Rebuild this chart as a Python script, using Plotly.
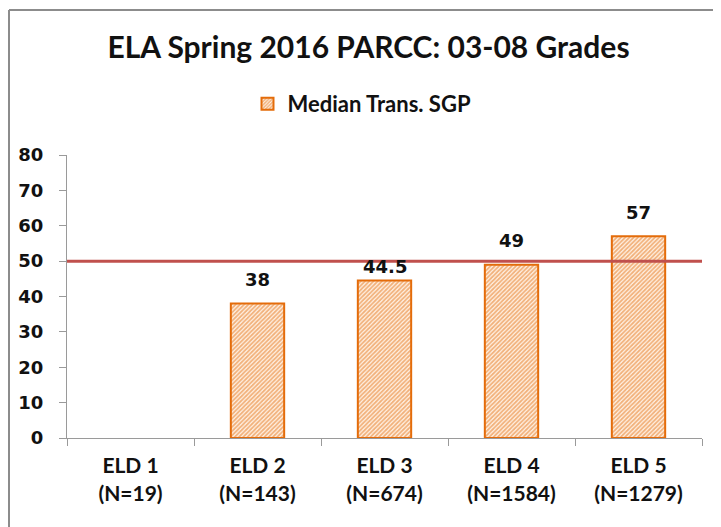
import plotly.graph_objects as go

categories = ["ELD 1<br>(N=19)", "ELD 2<br>(N=143)", "ELD 3<br>(N=674)", "ELD 4<br>(N=1584)", "ELD 5<br>(N=1279)"]
values = [None, 38, 44.5, 49, 57]
labels = ["", "38", "44.5", "49", "57"]
reference = 50
y_ticks = [0, 10, 20, 30, 40, 50, 60, 70, 80]

# label offsets above bar tops (px) -- styling only
label_shift = [24, 24, 14, 24, 24]

orange = "#E46C0A"
fig = go.Figure()
fig.add_trace(go.Bar(
    x=categories, y=values, name="Median Trans. SGP",
    width=0.42,
    marker=dict(color="white", line=dict(color=orange, width=2),
                pattern=dict(shape="/", fgcolor=orange, bgcolor="#fff4ea", size=3, solidity=0.6)),
))

for cat, val, lab, sh in zip(categories, values, labels, label_shift):
    if val is None:
        continue
    fig.add_annotation(x=cat, y=val, text=lab, showarrow=False, yanchor="middle", yshift=sh,
                       font=dict(family="DejaVu Sans", size=18, color="#111", weight="bold"))

fig.add_shape(type="line", xref="paper", yref="y", x0=0, x1=1, y0=reference, y1=reference,
              line=dict(color="#C0504D", width=3))

# page offset compensation: body margin of ~8px
# target plot area (screen px): x 67..702, y 155..438
L, R, T, B = 67 - 8, 721 - 702 + 8, 155 - 8, 527 - 438 + 8
pw, ph = 721 - L - R, 527 - T - B

def px_x(sx):
    return (sx - 8 - L) / pw

def px_y(sy):
    return ((527 - B) - (sy - 8)) / ph

# chart border
fig.add_shape(type="line", xref="paper", yref="paper", x0=px_x(9), x1=px_x(9), y0=px_y(540), y1=px_y(10),
              line=dict(color="#8c8c8c", width=2))
fig.add_shape(type="line", xref="paper", yref="paper", x0=px_x(9), x1=px_x(740), y0=px_y(10), y1=px_y(10),
              line=dict(color="#8c8c8c", width=2))

fig.update_layout(
    width=721, height=527,
    margin=dict(l=L, r=R, t=T, b=B, autoexpand=False),
    paper_bgcolor="white", plot_bgcolor="white",
    title=dict(text="ELA Spring 2016 PARCC: 03-08 Grades", x=0.5, xanchor="center",
               y=1 - 39/527, yanchor="middle",
               font=dict(family="Lato", size=30, color="#111", weight="bold")),
    showlegend=True,
    legend=dict(orientation="h", x=px_x(362), xanchor="center", y=px_y(104), yanchor="middle",
                font=dict(family="Lato", size=22, color="#111", weight="bold"), itemsizing="constant"),
)
fig.update_xaxes(showline=True, linecolor="#9a9a9a", linewidth=1, ticks="outside", tickson="boundaries",
                 ticklen=7, tickcolor="#9a9a9a", automargin=False, ticklabelstandoff=9,
                 tickfont=dict(family="Lato", size=21, color="#111", weight="bold"), showgrid=False)
fig.update_yaxes(range=[0, 80], tickvals=y_ticks, showline=True, linecolor="#9a9a9a", linewidth=1,
                 ticks="outside", ticklen=7, tickcolor="#9a9a9a", showgrid=False, zeroline=False,
                 automargin=False, ticklabelstandoff=12,
                 tickfont=dict(family="DejaVu Sans", size=18, color="#111", weight="bold"))
fig.write_html("out.html")
